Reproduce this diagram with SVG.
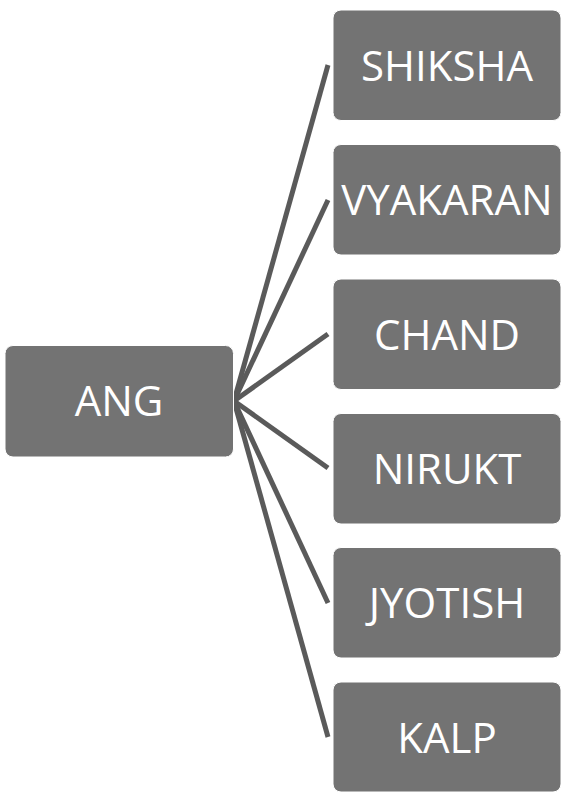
<svg xmlns="http://www.w3.org/2000/svg" width="565" height="798" viewBox="0 0 565 798">
<style>
.n{fill:#737373;stroke:#ffffff;stroke-width:1}
.t{fill:#ffffff;font-family:"Open Sans","Noto Sans",sans-serif;font-size:42px;text-anchor:middle}
.c{stroke:#5a5a5a;stroke-width:5;fill:none}
</style>
<rect width="565" height="798" fill="#ffffff"/>
<g id="connectors">
<line class="c" x1="234" y1="401" x2="328" y2="65"/>
<line class="c" x1="234" y1="401" x2="328" y2="200"/>
<line class="c" x1="234" y1="401" x2="328" y2="334"/>
<line class="c" x1="234" y1="401" x2="328" y2="468"/>
<line class="c" x1="234" y1="401" x2="328" y2="603"/>
<line class="c" x1="234" y1="401" x2="328" y2="737"/>
</g>
<g id="ang"><rect class="n" x="5" y="345.5" width="228.5" height="111.5" rx="8"/><text class="t" x="119" y="416">ANG</text></g>
<g id="shiksha"><rect class="n" x="333" y="10" width="228" height="110.5" rx="8"/><text class="t" x="447" y="80.5">SHIKSHA</text></g>
<g id="vyakaran"><rect class="n" x="333" y="144.5" width="228" height="110.5" rx="8"/><text class="t" x="447" y="215">VYAKARAN</text></g>
<g id="chand"><rect class="n" x="333" y="279" width="228" height="110.5" rx="8"/><text class="t" x="447" y="349.5">CHAND</text></g>
<g id="nirukt"><rect class="n" x="333" y="413.5" width="228" height="110.5" rx="8"/><text class="t" x="447" y="484">NIRUKT</text></g>
<g id="jyotish"><rect class="n" x="333" y="547.5" width="228" height="110.5" rx="8"/><text class="t" x="447" y="618">JYOTISH</text></g>
<g id="kalp"><rect class="n" x="333" y="682" width="228" height="110" rx="8"/><text class="t" x="447" y="752.5">KALP</text></g>
</svg>
